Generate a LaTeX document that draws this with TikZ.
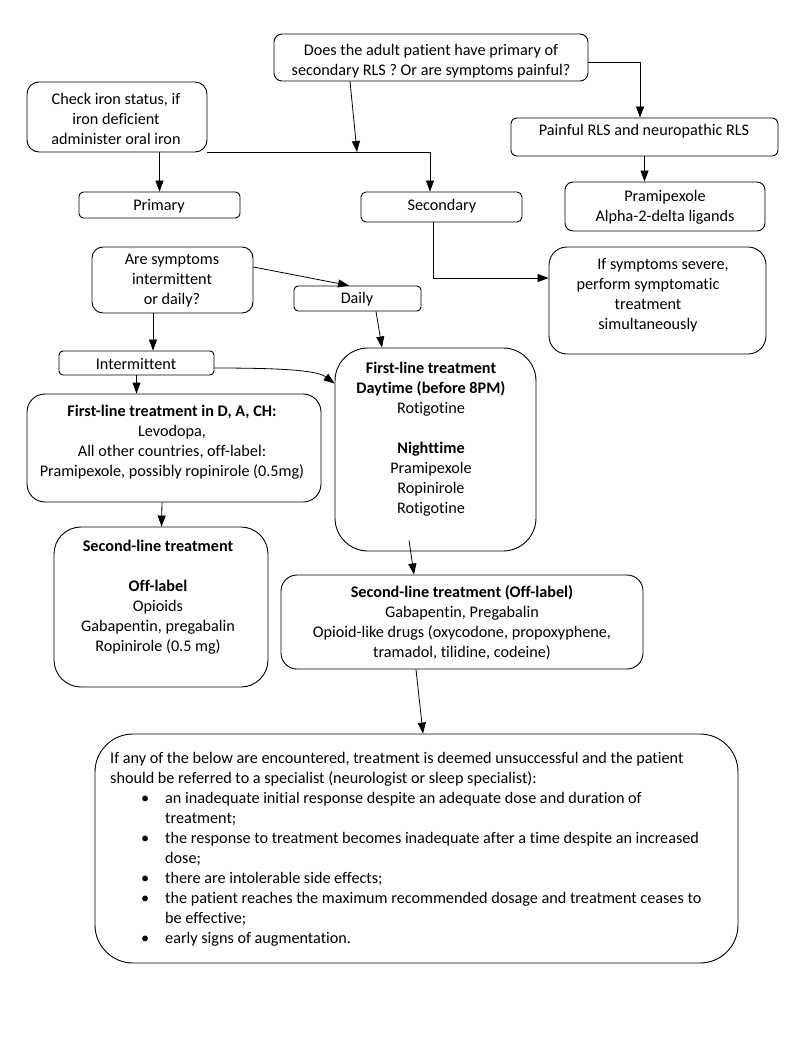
\documentclass[tikz,border=0pt]{standalone}
\usepackage{fontspec}
\setmainfont{Carlito}[Ligatures=NoCommon]
\usetikzlibrary{arrows.meta,calc}
\begin{document}
\begin{tikzpicture}[x=1pt,y=-1pt,
  box/.style={draw, line width=0.9pt, inner sep=0pt},
  txt/.style={align=center, font=\fontsize{16.2}{20}\selectfont, inner sep=0pt},
  arr/.style={-{Triangle[length=11pt,width=8pt]}, line width=0.8pt}]
\useasboundingbox[fill=white] (0,0) rectangle (810,1055);
% boxes
\node[box, minimum width=314pt, minimum height=47pt, rounded corners=8pt] (top) at (431,57.5) {};
\node[box, minimum width=180pt, minimum height=70pt, rounded corners=12pt] (iron) at (117,117) {};
\node[box, minimum width=267pt, minimum height=38pt, rounded corners=6pt] (pain) at (644.5,137) {};
\node[box, minimum width=200pt, minimum height=49pt, rounded corners=8pt] (pram) at (665,206.5) {};
\node[box, minimum width=161pt, minimum height=26pt, rounded corners=4.5pt] (prim) at (159.5,205) {};
\node[box, minimum width=161pt, minimum height=30pt, rounded corners=5pt] (sec) at (441.5,207) {};
\node[box, minimum width=161pt, minimum height=66pt, rounded corners=11pt] (are) at (172.5,280) {};
\node[box, minimum width=127pt, minimum height=25pt, rounded corners=4pt] (daily) at (357.5,298.5) {};
\node[box, minimum width=217pt, minimum height=107pt, rounded corners=18pt] (sev) at (657.5,300.5) {};
\node[box, minimum width=155pt, minimum height=24pt, rounded corners=4pt] (int) at (136.5,363) {};
\node[box, minimum width=294pt, minimum height=108pt, rounded corners=18pt] (dac) at (174,448) {};
\node[box, minimum width=201pt, minimum height=203pt, rounded corners=33pt] (day) at (435.5,449.5) {};
\node[box, minimum width=214pt, minimum height=160pt, rounded corners=27pt] (sl) at (161,607) {};
\node[box, minimum width=362pt, minimum height=94pt, rounded corners=16pt] (ol) at (462,622) {};
\node[box, minimum width=643pt, minimum height=229pt, rounded corners=38pt] (fin) at (416.5,848.5) {};
% texts
\node[txt] (ttop) at (431,61) {Does the adult patient have primary of\\ secondary RLS ? Or are symptoms painful?};
\node[txt] (tiron) at (116,119) {Check iron status, if\\ iron deficient\\ administer oral iron};
\node[txt] (tpain) at (644,131) {Painful RLS and neuropathic RLS};
\node[txt] (tpram) at (665,207) {Pramipexole\\ Alpha-2-delta ligands};
\node[txt] (tprim) at (159,206) {Primary};
\node[txt] (tsec) at (442,206) {Secondary};
\node[txt] (tare) at (172,281) {Are symptoms\\ intermittent\\ or daily?};
\node[txt] (tdaily) at (357,299) {Daily};
\node[txt] (tsev) at (648,295) {\hspace*{30pt}If symptoms severe,\\ perform symptomatic\\ treatment\\ simultaneously};
\node[txt] (tint) at (136,364) {Intermittent};
\node[txt] (tdac) at (172,442.5) {\textbf{First-line treatment in D, A, CH:}\\ Levodopa,\\ All other countries, off-label:\\ Pramipexole, possibly ropinirole (0.5mg)};
\node[txt] (tday) at (431,439.5) {\textbf{First-line treatment}\\ \textbf{Daytime (before 8PM)}\\ Rotigotine\\ \mbox{}\\ \textbf{Nighttime}\\ Pramipexole\\ Ropinirole\\ Rotigotine};
\node[txt] (tsl) at (158,597.5) {\textbf{Second-line treatment}\\ \mbox{}\\ \textbf{Off-label}\\ Opioids\\ Gabapentin, pregabalin\\ Ropinirole (0.5 mg)};
\node[txt] (tol) at (462,623) {\textbf{Second-line treatment (Off-label)}\\ Gabapentin, Pregabalin\\ Opioid-like drugs (oxycodone, propoxyphene,\\ tramadol, tilidine, codeine)};
\node[txt, align=left, anchor=west] (tfin) at (110,849.5) {If any of the below are encountered, treatment is deemed unsuccessful and the patient\\
should be referred to a specialist (neurologist or sleep specialist):\\
\hspace*{31pt}\makebox[24pt][l]{•}an inadequate initial response despite an adequate dose and duration of\\
\hspace*{55pt}treatment;\\
\hspace*{31pt}\makebox[24pt][l]{•}the response to treatment becomes inadequate after a time despite an increased\\
\hspace*{55pt}dose;\\
\hspace*{31pt}\makebox[24pt][l]{•}there are intolerable side effects;\\
\hspace*{31pt}\makebox[24pt][l]{•}the patient reaches the maximum recommended dosage and treatment ceases to\\
\hspace*{55pt}be effective;\\
\hspace*{31pt}\makebox[24pt][l]{•}early signs of augmentation.};
% connectors
\coordinate (j1) at (357,152);
\draw[arr] ([xshift=-81pt]top.south) -- (j1);
\draw[arr] (iron.south east) -| ([xshift=-11.5pt]sec.north);
\draw[arr] (iron.south -| prim.north) -- (prim.north);
\draw[arr] ([yshift=-4.5pt]top.east) -| ([xshift=-4.5pt]pain.north);
\draw[arr] (pain.south) -- (pain.south |- pram.north);
\draw[arr] ([xshift=-8pt]sec.south) |- ([yshift=22.5pt]sev.west);
\draw[arr] ([yshift=13pt]are.east) -- ([xshift=-8.5pt]daily.north);
\draw[arr] ([xshift=-19.5pt]are.south) -- ([xshift=-19.5pt]are.south |- int.north);
\draw[arr] ([xshift=18.5pt]daily.south) -- ([xshift=-53.5pt]day.north);
\draw[arr] ([yshift=-5pt]int.east) .. controls (290,368) and (318,371) .. ([yshift=-36pt]day.north west);
\draw[arr] (int.south) -- (int.south |- dac.north);
\draw[arr] ([xshift=-12pt]dac.south) -- ([xshift=0.5pt]sl.north);
\draw[arr] ([xshift=-26.5pt,yshift=11pt]day.south) -- ([xshift=-48pt]ol.north);
\draw[arr] ([xshift=-46pt]ol.south) -- ([xshift=6.5pt]fin.north);
\end{tikzpicture}
\end{document}
